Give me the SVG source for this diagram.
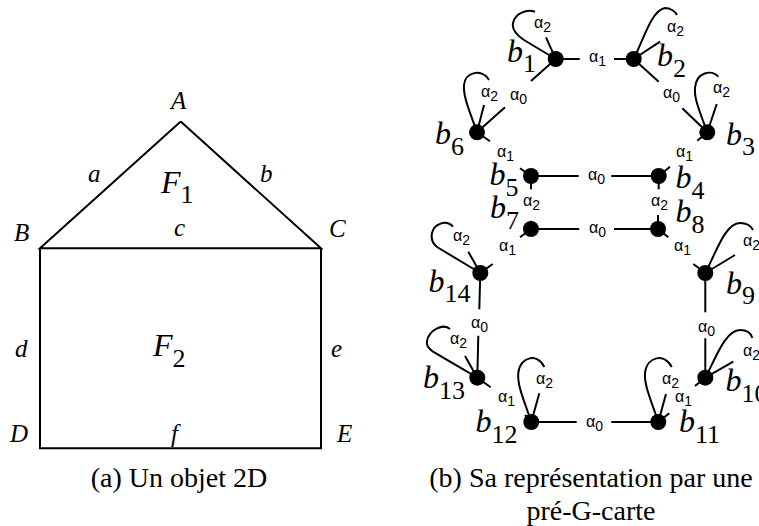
<svg xmlns="http://www.w3.org/2000/svg" width="759" height="526" viewBox="0 0 759 526">
<style>
.l{fill:none;stroke:#000;stroke-width:2;stroke-linecap:butt}
.n{fill:#000}
text{fill:#000}
.s{font-family:"Liberation Serif",serif;font-size:28px}
.i{font-family:"Liberation Serif",serif;font-size:25px;font-style:italic}
.b{font-family:"Liberation Serif",serif;font-size:32px;font-style:italic}
.sub{font-style:normal;font-size:26px}
.a{font-family:"Liberation Sans",sans-serif;font-size:16px}
.a tspan{font-size:14px}
</style>
<g id="object2d">
<path class="l" d="M180.700 121.500L40 248.300H321L180.700 121.500M40 248.300V448.300H321V248.300"/>
<g class="i">
<text x="171" y="109.300">A</text>
<text x="88" y="181.700">a</text>
<text x="260" y="181.700">b</text>
<text x="174" y="236">c</text>
<text x="14" y="240.700">B</text>
<text x="329" y="236.700">C</text>
<text x="15" y="356.700">d</text>
<text x="331" y="356.700">e</text>
<text x="10" y="441.700">D</text>
<text x="171" y="441.700">f</text>
<text x="337" y="441.700">E</text>
</g>
<text class="b" x="161" y="192.700">F<tspan class="sub" dy="10.500">1</tspan></text>
<text class="b" x="153" y="356">F<tspan class="sub" dy="10.500">2</tspan></text>
<text class="s" x="179" y="487" text-anchor="middle">(a) Un objet 2D</text>
</g>
<g id="connectors">
<path class="l" d="M555.700 59H579.700M614 59H633.700M555.700 59L531 81M477 132.300L505 107.300M555.700 59L546 37.300M555.700 59L524 40C515 34 512 28 513 23C515 13 527 9 535 11.700"/>
<path class="l" d="M633.700 59L660 41.700M633.700 59L658.700 81.700M633.700 59C644 38 652 10 665 8C670 8 675 11 677 15"/>
<path class="l" d="M707.300 132.300L682.300 108.300M707.300 132.300L716.700 104M707.300 132.300C699 110 694 98 695 88C696 72 712 69 718.300 76.700M707.300 132.300L697.300 140.700"/>
<path class="l" d="M477 132.300L490 141.300M477 132.300L484 105M477 132.300C470 112 463 97 464 85C465 72 482 68 489 80"/>
<path class="l" d="M531 176L520 168.300M531 176H578.700M611.300 176H658.700M531 176V189.300M658.700 176V189.300M658.700 176L670 166.700"/>
<path class="l" d="M531 229V220.700M658 229V215M531 229L520 237.300M658 229L668.300 237.300M531 229H579.300M614 229H658"/>
<path class="l" d="M480.300 273L492.700 264M480.300 273L468.300 251.700M480.300 273L437 247C432 243 431 238 432 233C434 224 446 219 453 226.700M480.300 273L479.300 309.300"/>
<path class="l" d="M705.300 273L693.300 264M705.300 273L735 255M705.300 273C715 255 725 223 740 223C747 223 751 226 753 230M705.300 312.300V273"/>
<path class="l" d="M477.300 377.700L478.300 335.700M477.300 377.700L465 356M477.300 377.700L433 351.700C428 348 426 345 427 341C429 330 443 323 450 329M477.300 377.700L490.700 387.300"/>
<path class="l" d="M705.300 377.700V338.300M705.300 377.700L733.300 361.700M705.300 377.700C715 360 725 330 740 330C747 330 751 333 752.300 338M705.300 377.700L695 386"/>
<path class="l" d="M531.300 422L525 415M531.300 422L539.300 393.300M531.300 422C524 400 517 385 518.300 373C520 356 538 353 544.300 367M531.300 422H576.700"/>
<path class="l" d="M611.300 422H658.300M658.300 422L666 394M658.300 422L669.300 413.300M658.300 422C651 400 644 385 645 373C647 356 665 353 671.700 367"/>
</g>
<g id="edge-labels" class="a">
<text x="534" y="28.300">α<tspan dy="4">2</tspan></text>
<text x="589" y="61.700">α<tspan dy="4">1</tspan></text>
<text x="667" y="31.700">α<tspan dy="4">2</tspan></text>
<text x="510" y="100">α<tspan dy="4">0</tspan></text>
<text x="481" y="96.700">α<tspan dy="4">2</tspan></text>
<text x="663" y="98.300">α<tspan dy="4">0</tspan></text>
<text x="713" y="93.300">α<tspan dy="4">2</tspan></text>
<text x="497" y="156.700">α<tspan dy="4">1</tspan></text>
<text x="676" y="157">α<tspan dy="4">1</tspan></text>
<text x="588" y="180">α<tspan dy="4">0</tspan></text>
<text x="523" y="206">α<tspan dy="4">2</tspan></text>
<text x="651" y="206">α<tspan dy="4">2</tspan></text>
<text x="589" y="233">α<tspan dy="4">0</tspan></text>
<text x="499" y="250.700">α<tspan dy="4">1</tspan></text>
<text x="674" y="250.700">α<tspan dy="4">1</tspan></text>
<text x="453" y="240.700">α<tspan dy="4">2</tspan></text>
<text x="743" y="246">α<tspan dy="4">2</tspan></text>
<text x="471" y="328.300">α<tspan dy="4">0</tspan></text>
<text x="698" y="331.700">α<tspan dy="4">0</tspan></text>
<text x="450" y="344.300">α<tspan dy="4">2</tspan></text>
<text x="743" y="356">α<tspan dy="4">2</tspan></text>
<text x="536" y="384.300">α<tspan dy="4">2</tspan></text>
<text x="662" y="384.300">α<tspan dy="4">2</tspan></text>
<text x="498" y="401.700">α<tspan dy="4">1</tspan></text>
<text x="675" y="401.700">α<tspan dy="4">1</tspan></text>
<text x="586" y="426.700">α<tspan dy="4">0</tspan></text>
</g>
<g id="b1"><circle class="n" cx="555.700" cy="59" r="8"/><text class="b" x="507" y="61.700">b<tspan class="sub" dy="10">1</tspan></text></g>
<g id="b2"><circle class="n" cx="633.700" cy="59" r="8"/><text class="b" x="657" y="66">b<tspan class="sub" dy="11">2</tspan></text></g>
<g id="b3"><circle class="n" cx="707.300" cy="132.300" r="8"/><text class="b" x="726" y="145">b<tspan class="sub" dy="10">3</tspan></text></g>
<g id="b4"><circle class="n" cx="658.700" cy="176" r="8"/><text class="b" x="675.500" y="188">b<tspan class="sub" dy="11">4</tspan></text></g>
<g id="b5"><circle class="n" cx="531" cy="176" r="8"/><text class="b" x="489.500" y="185">b<tspan class="sub" dy="11">5</tspan></text></g>
<g id="b6"><circle class="n" cx="477" cy="132.300" r="8"/><text class="b" x="435" y="144">b<tspan class="sub" dy="11">6</tspan></text></g>
<g id="b7"><circle class="n" cx="531" cy="229" r="8"/><text class="b" x="490" y="218">b<tspan class="sub" dy="11">7</tspan></text></g>
<g id="b8"><circle class="n" cx="658" cy="229" r="8"/><text class="b" x="675.500" y="221.700">b<tspan class="sub" dy="11">8</tspan></text></g>
<g id="b9"><circle class="n" cx="705.300" cy="273" r="8"/><text class="b" x="726" y="294">b<tspan class="sub" dy="10">9</tspan></text></g>
<g id="b10"><circle class="n" cx="705.300" cy="377.700" r="8"/><text class="b" x="725.500" y="391">b<tspan class="sub" dy="11">10</tspan></text></g>
<g id="b11"><circle class="n" cx="658.300" cy="422" r="8"/><text class="b" x="679" y="431.700">b<tspan class="sub" dy="11">11</tspan></text></g>
<g id="b12"><circle class="n" cx="531.300" cy="422" r="8"/><text class="b" x="475.500" y="431.700">b<tspan class="sub" dy="11">12</tspan></text></g>
<g id="b13"><circle class="n" cx="477.300" cy="377.700" r="8"/><text class="b" x="423" y="388.300">b<tspan class="sub" dy="11">13</tspan></text></g>
<g id="b14"><circle class="n" cx="480.300" cy="273" r="8"/><text class="b" x="428.500" y="291.700">b<tspan class="sub" dy="10">14</tspan></text></g>
<text class="s" x="591" y="487" text-anchor="middle">(b) Sa représentation par une</text>
<text class="s" x="591" y="520" text-anchor="middle">pré-G-carte</text>
</svg>
